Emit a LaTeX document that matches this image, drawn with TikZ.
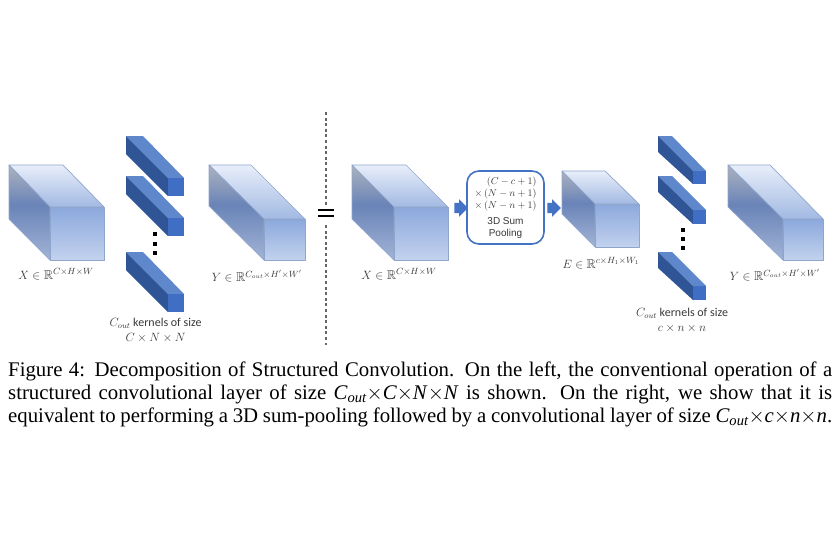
\documentclass[tikz,border=0pt]{standalone}
\usepackage{amsmath,amssymb}
\usepackage{fontspec}
\setmainfont{Liberation Serif}
\newfontfamily\calfont{Carlito}
\newfontfamily\arialfont{Liberation Sans}
\usetikzlibrary{shapes.arrows}
\definecolor{edgeblue}{HTML}{8FA6CC}
\definecolor{kfront}{HTML}{3F6EC4}
\definecolor{ktop}{HTML}{5F87CB}
\definecolor{kside}{HTML}{2F5597}
\definecolor{labelgray}{HTML}{383838}
\definecolor{boxblue}{HTML}{4472C4}
\definecolor{sb}{HTML}{A2B4D6}
\definecolor{sm}{HTML}{6A84B8}
\definecolor{st}{HTML}{ACB2BE}
\pgfdeclareverticalshading{sideshade}{100bp}{
  color(0bp)=(sb); color(25bp)=(sb); color(54bp)=(sm); color(75bp)=(st); color(100bp)=(st)}
\tikzset{
  x=1pt,y=-1pt,
  faceline/.style={draw=edgeblue,line width=.7pt,line join=round},
  mathlabel/.style={text=labelgray,font=\fontsize{12.8}{15}\selectfont,inner sep=0pt},
  kernellabel/.style={text=labelgray,font=\calfont\fontsize{12}{15}\selectfont,inner sep=0pt,align=center},
  caplabel/.style={anchor=base west,inner sep=0pt,text=black,font=\fontsize{20.8}{23}\selectfont},
  blockarrow/.style={single arrow,fill=boxblue,draw=none,minimum height=13.5pt,single arrow head extend=3.5pt,inner sep=0pt,single arrow head indent=0pt},
  sep/.style={draw=black!60,line width=1.2pt,dash pattern=on 3pt off 2.6pt},
  eqbar/.style={draw=black,line width=1.4pt},
  dotmark/.style={fill=black,minimum size=4.5pt,inner sep=0pt,draw=none},
}
% big block: left, top, back-right, front-left, front-right, front-top, bottom, back-bottom
\newcommand{\bigblock}[8]{%
  \shade[faceline,top color={rgb,255:red,232;green,238;blue,250},bottom color={rgb,255:red,162;green,185;blue,226}]
    (#1,#2)--(#3,#2)--(#5,#6)--(#4,#6)--cycle;
  \shade[faceline,shading=sideshade]
    (#1,#2)--(#4,#6)--(#4,#7)--(#1,#8)--cycle;
  \shade[faceline,top color={rgb,255:red,140;green,168;blue,220},bottom color={rgb,255:red,194;green,210;blue,238}]
    (#4,#6) rectangle (#5,#7);
}
% kernel: same argument order
\newcommand{\kernelblock}[8]{%
  \fill[ktop] (#1,#2)--(#3,#2)--(#5,#6)--(#4,#6)--cycle;
  \fill[kside] (#1,#2)--(#4,#6)--(#4,#7)--(#1,#8)--cycle;
  \fill[kfront] (#4,#6) rectangle (#5,#7);
}
\newcommand{\capout}{\textit{C\textsubscript{out}}}
\newcommand{\capline}[1]{\makebox[824pt][s]{#1}}
\begin{document}
\begin{tikzpicture}
\useasboundingbox (0,0) rectangle (840,550);
\fill[white] (0,0) rectangle (840,550);
% left part
\bigblock{9}{165}{63}{50}{104}{207}{260}{219}
\kernelblock{126}{136}{143}{168}{184}{178}{196}{154}
\kernelblock{126}{176}{143}{168}{184}{218}{236}{194}
\kernelblock{126}{252}{143}{168}{184}{294}{312}{270}
\node[dotmark] (dl1) at (155,234) {};
\node[dotmark] (dl2) at (155,244) {};
\node[dotmark] (dl3) at (155,253) {};
\bigblock{209}{165}{251}{264}{305}{219}{260}{206}
\node[mathlabel] (xl) at (56,274) {$X\in\mathbb{R}^{C\times H\times W}$};
\node[mathlabel] (yl) at (257,276) {$Y\in\mathbb{R}^{C_{out}\times H'\times W'}$};
\node[kernellabel] (kl) at (155.5,330.5) {$C_{out}$ kernels of size\\$C\times N\times N$};
% separator
\coordinate (s1) at (326,112);
\coordinate (s2) at (326,205);
\coordinate (s3) at (326,225);
\coordinate (s4) at (326,345);
\draw[sep] (s1)--(s2);
\draw[sep] (s3)--(s4);
\coordinate (e1) at (318,210);
\coordinate (e2) at (334,210);
\coordinate (e3) at (318,216);
\coordinate (e4) at (334,216);
\draw[eqbar] (e1)--(e2);
\draw[eqbar] (e3)--(e4);
% right part
\bigblock{352}{165}{406}{394}{448}{207}{260}{219}
\node[mathlabel] (xr) at (399,274) {$X\in\mathbb{R}^{C\times H\times W}$};
\node[blockarrow] (a1) at (458.5,208) {\rule{0pt}{10pt}};
\node[draw=boxblue,line width=1.6pt,rounded corners=12pt,fill=white,minimum width=77pt,minimum height=73pt,inner sep=0pt] (pool) at (505.5,207.5) {};
\node[inner sep=0pt,text=labelgray,font=\fontsize{9.8}{11.6}\selectfont,align=right] (pm) at (505.5,194) {$(C-c+1)$\\$\times\,(N-n+1)$\\$\times\,(N-n+1)$};
\node[inner sep=0pt,text=labelgray,font=\arialfont\fontsize{10}{11.6}\selectfont,align=center] (pt) at (505.5,228) {3D Sum\\Pooling};
\node[blockarrow] (a2) at (551.5,208) {\rule{0pt}{10pt}};
\bigblock{562}{171}{605}{595}{639}{204}{247}{214}
\node[mathlabel] (el) at (601,263) {$E\in\mathbb{R}^{c\times H_1\times W_1}$};
\kernelblock{658}{136}{672}{693}{706}{171}{184}{152}
\kernelblock{658}{176}{672}{693}{706}{210}{224}{192}
\kernelblock{658}{252}{672}{693}{706}{286}{300}{268}
\node[dotmark] (dr1) at (683,230) {};
\node[dotmark] (dr2) at (683,239) {};
\node[dotmark] (dr3) at (683,248) {};
\bigblock{728}{165}{770}{783}{823}{219}{260}{207}
\node[mathlabel] (yr) at (775,275) {$Y\in\mathbb{R}^{C_{out}\times H'\times W'}$};
\node[kernellabel] (kr) at (682,320.5) {$C_{out}$ kernels of size\\$c\times n\times n$};
% caption
\node[caplabel] (c1) at (8,376) {\capline{Figure 4: Decomposition of Structured Convolution. On the left, the conventional operation of a}};
\node[caplabel] (c2) at (8,399) {\capline{structured convolutional layer of size \capout$\times$\textit{C}$\times$\textit{N}$\times$\textit{N} is shown. On the right, we show that it is}};
\node[caplabel] (c3) at (8,422) {\capline{equivalent to performing a 3D sum-pooling followed by a convolutional layer of size \capout$\times$\textit{c}$\times$\textit{n}$\times$\textit{n}.}};
\end{tikzpicture}
\end{document}
